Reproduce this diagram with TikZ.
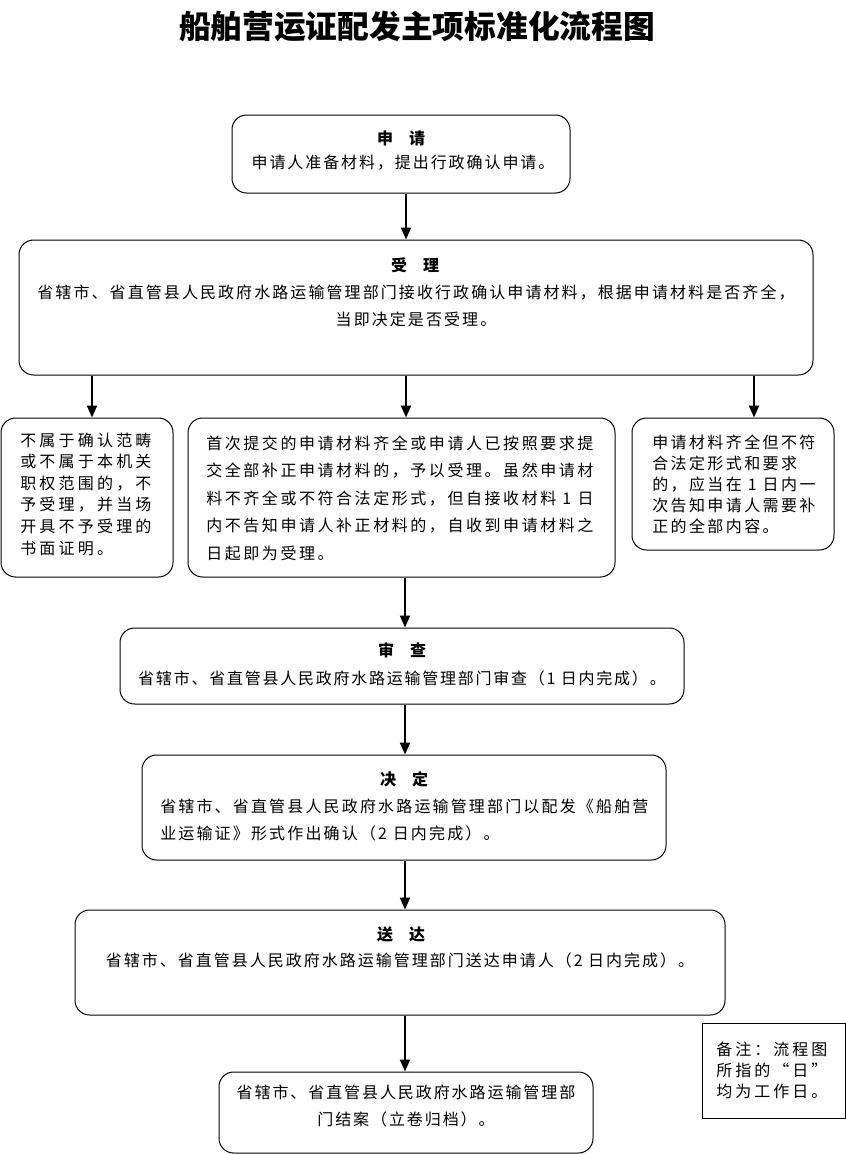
\documentclass[tikz,border=0pt]{standalone}
\usepackage{fontspec}
\setmainfont{Noto Sans CJK SC}
\usetikzlibrary{fit,arrows.meta}
\newcommand\myfont[2]{\fontsize{12}{#1}\selectfont\addfontfeatures{LetterSpace=#2}}
\begin{document}
\begin{tikzpicture}[x=0.75pt,y=-0.75pt,
  box/.style={draw,line width=0.75pt,rounded corners=11pt,inner sep=0pt},
  notebox/.style={draw,line width=0.75pt,inner sep=0pt},
  arr/.style={line width=1.6pt,-{Triangle[length=9pt,width=7.5pt]}},
  txt/.style={inner sep=0pt},
  head/.style={inner sep=0pt,font={\fontsize{12}{14}\selectfont\bfseries}},
]
\useasboundingbox[fill=white] (0,0) rectangle (846,1154);

% title
\node[txt,font={\fontsize{23.8}{28}\selectfont\bfseries}] (title) at (417,27) {船舶营运证配发主项标准化流程图};

% boxes
\node[box,fit={(232,115) (570,193)}] (apply) {};
\node[box,fit={(19,240) (813,375)}] (accept) {};
\node[box,fit={(1,418) (173,577)}] (reject) {};
\node[box,fit={(188,418) (615,577)}] (ok) {};
\node[box,fit={(632,418) (834,550)}] (fix) {};
\node[box,fit={(120,628) (684,704)}] (review) {};
\node[box,fit={(142,755) (666,860)}] (decide) {};
\node[box,fit={(75,910) (725,1015)}] (deliver) {};
\node[box,fit={(219,1072) (593,1153)}] (close) {};
\node[notebox,fit={(702,1023) (845,1118)}] (note) {};

% texts
\node[head] (applyh) at (401,138) {申　请};
\node[txt,font={\myfont{20}{12}}] (applyt) at (403,163) {申请人准备材料，提出行政确认申请。};

\node[head] (accepth) at (415,265) {受　理};
\node[txt,align=center,font={\myfont{20.25}{13}}] (acceptt) at (416,306)
  {省辖市、省直管县人民政府水路运输管理部门接收行政确认申请材料，根据申请材料是否齐全，\\当即决定是否受理。};

\node[txt,anchor=west,align=left,font={\myfont{16.2}{20}}] (rejectt) at (20,494)
  {不属于确认范畴\\或不属于本机关\\职权范围的，不\\予受理，并当场\\开具不予受理的\\书面证明。};

\node[txt,anchor=west,align=left,font={\myfont{20.6}{16}}] (okt) at (206,498)
  {首次提交的申请材料齐全或申请人已按照要求提\\交全部补正申请材料的，予以受理。虽然申请材\\料不齐全或不符合法定形式，但自接收材料 1 日\\内不告知申请人补正材料的，自收到申请材料之\\日起即为受理。};

\node[txt,anchor=west,align=left,font={\myfont{15.8}{15}}] (fixt) at (652,484)
  {申请材料齐全但不符\\合法定形式和要求\\的，应当在 1 日内一\\次告知申请人需要补\\正的全部内容。};

\node[head] (reviewh) at (402,650) {审　查};
\node[txt,font={\myfont{20}{11}}] (reviewt) at (402,678) {省辖市、省直管县人民政府水路运输管理部门审查（1 日内完成）。};

\node[head] (decideh) at (404,779) {决　定};
\node[txt,anchor=west,align=left,font={\myfont{20.25}{13.5}}] (decidet) at (160,820)
  {省辖市、省直管县人民政府水路运输管理部门以配发《船舶营\\业运输证》形式作出确认（2 日内完成）。};

\node[head] (deliverh) at (401,934) {送　达};
\node[txt,font={\myfont{20}{12.5}}] (delivert) at (400,960) {省辖市、省直管县人民政府水路运输管理部门送达申请人（2 日内完成）。};

\node[txt,align=center,font={\myfont{20.25}{12}}] (closet) at (406,1106)
  {省辖市、省直管县人民政府水路运输管理部\\门结案（立卷归档）。};

\node[txt,anchor=west,align=left,font={\myfont{15.8}{19}}] (notet) at (716,1070)
  {备注：流程图\\所指的“日”\\均为工作日。};

% arrows
\coordinate (sp) at (405,0);
\coordinate (c1) at (92,0);
\coordinate (c2) at (406,0);
\coordinate (c3) at (754,0);
\draw[arr] (apply.south -| c2) -- (accept.north -| c2);
\draw[arr] (accept.south -| c1) -- (reject.north -| c1);
\draw[arr] (accept.south -| c2) -- (ok.north -| c2);
\draw[arr] (accept.south -| c3) -- (fix.north -| c3);
\draw[arr] (ok.south -| sp) -- (review.north -| sp);
\draw[arr] (review.south -| sp) -- (decide.north -| sp);
\draw[arr] (decide.south -| sp) -- (deliver.north -| sp);
\draw[arr] (deliver.south -| sp) -- (close.north -| sp);
\end{tikzpicture}
\end{document}
